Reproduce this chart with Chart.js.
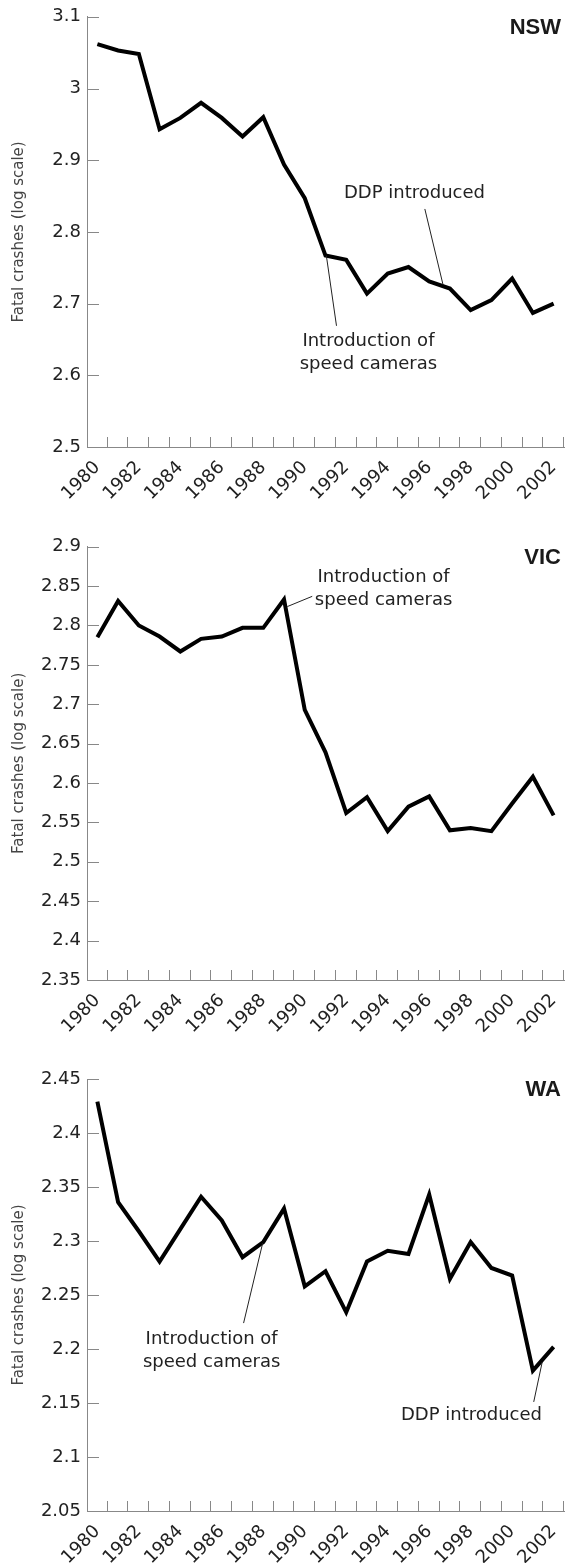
<!DOCTYPE html>
<html>
<head>
<meta charset="utf-8">
<script src="https://cdn.jsdelivr.net/npm/chart.js@4.4.1/dist/chart.umd.min.js"></script>
<style>
  body { margin: 0; background: #fff; }
  .wrap { position: relative; width: 565px; height: 1563px; }
  .wrap canvas { position: absolute; left: 0; }
</style>
</head>
<body>
<div class="wrap">
  <canvas id="nswChart" width="565" height="520" style="top:0px"></canvas>
  <canvas id="vicChart" width="565" height="533" style="top:520px"></canvas>
  <canvas id="waChart" width="565" height="523" style="top:1040px"></canvas>
</div>
<script>
// Years on the x axis
var years = ["1980", "1981", "1982", "1983", "1984", "1985", "1986", "1987", "1988", "1989", "1990",
  "1991", "1992", "1993", "1994", "1995", "1996", "1997", "1998", "1999", "2000", "2001", "2002"];

// log10 of fatal crashes
var nswValues = [3.062, 3.053, 3.048, 2.943, 2.959, 2.980, 2.959, 2.933, 2.960, 2.894, 2.847,
  2.767, 2.761, 2.714, 2.742, 2.751, 2.731, 2.721, 2.691, 2.705, 2.735, 2.687, 2.700];
var vicValues = [2.785, 2.831, 2.800, 2.786, 2.767, 2.783, 2.786, 2.797, 2.797, 2.833, 2.693,
  2.639, 2.562, 2.582, 2.539, 2.570, 2.583, 2.540, 2.543, 2.539, 2.574, 2.608, 2.559];
var waValues = [2.429, 2.336, 2.309, 2.281, 2.311, 2.341, 2.319, 2.285, 2.299, 2.330, 2.258,
  2.272, 2.234, 2.281, 2.291, 2.288, 2.343, 2.265, 2.299, 2.275, 2.268, 2.180, 2.202];

// y tick labels
var nswTicks = [2.5, 2.6, 2.7, 2.8, 2.9, 3, 3.1];
var vicTicks = [2.35, 2.4, 2.45, 2.5, 2.55, 2.6, 2.65, 2.7, 2.75, 2.8, 2.85, 2.9];
var waTicks = [2.05, 2.1, 2.15, 2.2, 2.25, 2.3, 2.35, 2.4, 2.45];

var FONT = "'DejaVu Sans', sans-serif";

// draws the inward tick marks, the state name and the notes with their leader lines
var decorPlugin = {
  id: "decor",
  afterDraw: function (chart, args, opts) {
    var ctx = chart.ctx;
    var xs = chart.scales.x;
    var ys = chart.scales.y;
    var area = chart.chartArea;
    ctx.save();

    ctx.strokeStyle = "#888";
    ctx.lineWidth = 1;
    ys.ticks.forEach(function (t, i) {
      var py = Math.round(ys.getPixelForTick(i)) + 0.5;
      ctx.beginPath();
      ctx.moveTo(area.left, py);
      ctx.lineTo(area.left + 12, py);
      ctx.stroke();
    });
    for (var i = 0; i < years.length; i++) {
      var px = Math.round(xs.getPixelForValue(i + 0.5)) - 0.5;
      ctx.beginPath();
      ctx.moveTo(px, area.bottom);
      ctx.lineTo(px, area.bottom - 10);
      ctx.stroke();
    }

    // state name
    ctx.fillStyle = "#1a1a1a";
    ctx.font = "bold 22px 'Liberation Sans', sans-serif";
    ctx.textAlign = "right";
    ctx.textBaseline = "middle";
    ctx.fillText(opts.name, area.right - 3, area.top + 11);

    // leader lines
    ctx.strokeStyle = "#222";
    ctx.lineWidth = 1;
    (opts.leaders || []).forEach(function (l) {
      ctx.beginPath();
      ctx.moveTo(xs.getPixelForValue(l[0]), ys.getPixelForValue(l[1]));
      ctx.lineTo(xs.getPixelForValue(l[2]), ys.getPixelForValue(l[3]));
      ctx.stroke();
    });

    // notes
    ctx.fillStyle = "#222";
    ctx.font = "18px " + FONT;
    ctx.textAlign = "center";
    (opts.notes || []).forEach(function (n) {
      var px = xs.getPixelForValue(n.x);
      var py = ys.getPixelForValue(n.y);
      n.lines.forEach(function (line, k) {
        ctx.fillText(line, px, py + k * 23);
      });
    });

    ctx.restore();
  }
};

function makeChart(id, values, tickList, name, padTop, axisHeight, notes, leaders) {
  var ctx = document.getElementById(id).getContext("2d");
  return new Chart(ctx, {
    type: "line",
    data: {
      labels: years,
      datasets: [{
        data: values,
        borderColor: "#000",
        borderWidth: 4,
        borderJoinStyle: "miter",
        pointRadius: 0,
        tension: 0,
        fill: false
      }]
    },
    options: {
      responsive: false,
      animation: false,
      layout: { padding: { top: padTop, right: 1, left: 0, bottom: 0 } },
      plugins: {
        legend: { display: false },
        tooltip: { enabled: false },
        decor: { name: name, notes: notes, leaders: leaders }
      },
      scales: {
        x: {
          offset: true,
          grid: { display: false, drawTicks: false },
          border: { display: true, color: "#888" },
          ticks: {
            autoSkip: false,
            minRotation: 45,
            maxRotation: 45,
            padding: 10,
            color: "#222",
            font: { family: FONT, size: 18 },
            callback: function (v, i) { return i % 2 === 0 ? years[i] : ""; }
          },
          afterFit: function (s) {
            s.height = axisHeight;
            // keep the rotated labels from shrinking the plot
            s.paddingLeft = 0;
            s.paddingRight = 0;
          }
        },
        y: {
          min: tickList[0],
          max: tickList[tickList.length - 1],
          grid: { display: false, drawTicks: false },
          border: { display: true, color: "#888" },
          afterBuildTicks: function (s) {
            s.ticks = tickList.map(function (v) { return { value: v }; });
          },
          ticks: {
            padding: 6,
            color: "#222",
            font: { family: FONT, size: 18 },
            callback: function (v) { return String(+v.toFixed(2)); }
          },
          title: {
            display: true,
            text: "Fatal crashes (log scale)",
            color: "#444",
            font: { family: FONT, size: 15 },
            padding: { top: 10, bottom: 0 }
          },
          afterFit: function (s) { s.width = 87; }
        }
      }
    },
    plugins: [decorPlugin]
  });
}

makeChart("nswChart", nswValues, nswTicks, "NSW", 15, 73,
  [{ lines: ["DDP introduced"], x: 15.29, y: 2.854 },
   { lines: ["Introduction of", "speed cameras"], x: 13.07, y: 2.647 }],
  [[15.79, 2.832, 16.67, 2.726], [11.04, 2.767, 11.53, 2.669]]);

makeChart("vicChart", vicValues, vicTicks, "VIC", 26.7, 73,
  [{ lines: ["Introduction of", "speed cameras"], x: 13.8, y: 2.8615 }],
  [[10.36, 2.837, 9.16, 2.824]]);

makeChart("waChart", waValues, waTicks, "WA", 39, 52,
  [{ lines: ["Introduction of", "speed cameras"], x: 5.51, y: 2.209 },
   { lines: ["DDP introduced"], x: 18.04, y: 2.139 }],
  [[7.05, 2.224, 7.97, 2.298], [21.04, 2.151, 21.45, 2.188]]);
</script>
</body>
</html>
